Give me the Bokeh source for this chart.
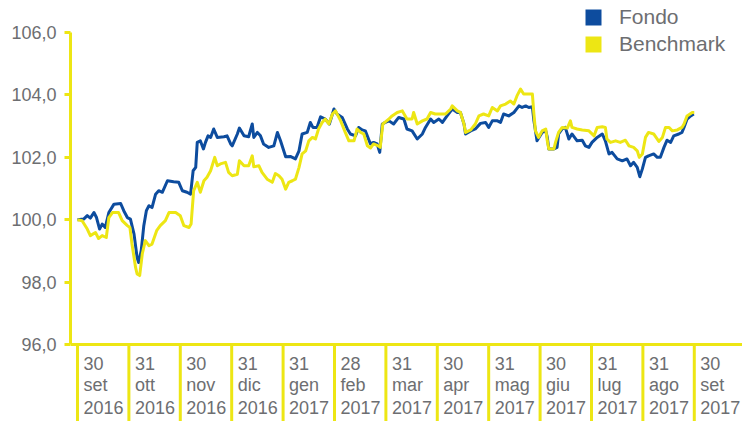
from bokeh.plotting import figure
from bokeh.models import (FixedTicker, Range1d, ColumnDataSource, Legend, LegendItem, Span)
from bokeh.core.properties import value
from bokeh.embed import file_html
from bokeh.resources import INLINE

# ---------------- data ----------------
month_pos = list(range(13))
day_labels = ["30", "31", "30", "31", "31", "28", "31", "30", "31", "30", "31", "31", "30"]
month_labels = ["set", "ott", "nov", "dic", "gen", "feb", "mar", "apr", "mag", "giu", "lug", "ago", "set"]
year_labels = ["2016", "2016", "2016", "2016", "2017", "2017", "2017", "2017", "2017",
               "2017", "2017", "2017", "2017"]

y_ticks = [96, 98, 100, 102, 104, 106]

fondo_t = [0.00, 0.12, 0.19, 0.25, 0.32, 0.37, 0.43, 0.48, 0.54, 0.61, 0.71, 0.84, 0.90, 0.97,
           1.03, 1.10, 1.16, 1.19, 1.24, 1.29, 1.34, 1.39, 1.45, 1.52, 1.58, 1.65, 1.75, 1.87,
           1.97, 2.04, 2.13, 2.20, 2.25, 2.30, 2.33, 2.39, 2.45, 2.49, 2.54, 2.59, 2.65, 2.72,
           2.85, 2.91, 2.98, 3.01, 3.11, 3.15, 3.24, 3.33, 3.40, 3.43, 3.50, 3.56, 3.62, 3.72,
           3.82, 3.89, 3.95, 4.05, 4.14, 4.24, 4.31, 4.37, 4.47, 4.53, 4.58, 4.66, 4.73, 4.82,
           4.90, 4.99, 5.05, 5.15, 5.25, 5.31, 5.41, 5.47, 5.54, 5.60, 5.70, 5.76, 5.83, 5.88,
           5.93, 5.99, 6.06, 6.15, 6.25, 6.35, 6.41, 6.51, 6.61, 6.71, 6.77, 6.87, 6.93, 7.03,
           7.10, 7.19, 7.29, 7.39, 7.45, 7.52, 7.55, 7.65, 7.74, 7.84, 7.94, 8.00, 8.07, 8.17,
           8.23, 8.29, 8.39, 8.49, 8.59, 8.65, 8.72, 8.78, 8.85, 8.88, 8.94, 9.04, 9.11, 9.14,
           9.17, 9.27, 9.33, 9.36, 9.43, 9.49, 9.56, 9.62, 9.72, 9.82, 9.88, 9.95, 10.01, 10.11,
           10.21, 10.27, 10.34, 10.40, 10.50, 10.60, 10.69, 10.76, 10.82, 10.89, 10.94, 10.99,
           11.05, 11.11, 11.21, 11.28, 11.34, 11.41, 11.47, 11.54, 11.60, 11.70, 11.76, 11.80,
           11.86, 11.93, 11.99]
fondo_v = [100.00, 100.02, 100.13, 100.05, 100.23, 100.07, 99.70, 99.86, 99.75, 100.23, 100.50,
           100.52, 100.29, 100.07, 100.02, 99.54, 98.79, 98.63, 99.01, 99.81, 100.29, 100.45,
           100.39, 100.82, 100.93, 100.88, 101.25, 101.22, 101.20, 100.93, 100.88, 100.82, 101.57,
           101.68, 102.48, 102.53, 102.27, 102.48, 102.69, 102.64, 102.91, 102.64, 102.66, 102.69,
           102.43, 102.37, 102.75, 102.94, 102.69, 102.66, 103.07, 102.64, 102.80, 102.69, 102.43,
           102.32, 102.37, 102.80, 102.53, 102.02, 102.03, 101.95, 102.21, 102.75, 102.80, 103.12,
           102.96, 102.96, 103.30, 103.23, 103.07, 103.55, 103.39, 103.28, 102.91, 102.75, 102.69,
           102.96, 102.88, 102.85, 102.43, 102.48, 102.43, 102.16, 103.07, 103.12, 103.17, 103.07,
           103.28, 103.23, 102.91, 102.85, 102.59, 102.75, 102.96, 103.23, 103.12, 103.23, 103.12,
           103.33, 103.55, 103.44, 103.44, 103.07, 102.75, 102.85, 102.91, 103.09, 103.12, 102.96,
           103.17, 103.17, 103.12, 103.39, 103.33, 103.44, 103.65, 103.60, 103.65, 103.60, 103.62,
           103.17, 102.53, 102.80, 102.85, 102.64, 102.27, 102.27, 102.32, 102.75, 102.91, 102.96,
           102.59, 102.75, 102.53, 102.55, 102.37, 102.32, 102.48, 102.64, 102.75, 102.53, 102.11,
           102.16, 101.95, 101.89, 101.95, 101.73, 101.84, 101.68, 101.38, 101.63, 102.00, 102.05,
           102.11, 102.00, 102.00, 102.32, 102.55, 102.48, 102.69, 102.75, 102.80, 102.96, 103.23,
           103.33, 103.39]

bench_t = [0.00, 0.09, 0.19, 0.25, 0.35, 0.41, 0.48, 0.56, 0.61, 0.68, 0.80, 0.87, 0.97, 1.02,
           1.06, 1.13, 1.16, 1.21, 1.26, 1.32, 1.39, 1.45, 1.54, 1.61, 1.71, 1.78, 1.91, 2.00,
           2.07, 2.17, 2.21, 2.26, 2.33, 2.39, 2.46, 2.52, 2.59, 2.67, 2.72, 2.78, 2.88, 2.94,
           3.01, 3.11, 3.15, 3.24, 3.33, 3.40, 3.43, 3.53, 3.59, 3.69, 3.79, 3.85, 3.92, 3.98,
           4.05, 4.11, 4.18, 4.24, 4.31, 4.37, 4.44, 4.50, 4.57, 4.63, 4.69, 4.76, 4.82, 4.89,
           4.96, 5.02, 5.12, 5.21, 5.28, 5.38, 5.44, 5.51, 5.57, 5.64, 5.70, 5.76, 5.85, 5.89,
           5.94, 5.99, 6.06, 6.12, 6.22, 6.32, 6.41, 6.51, 6.54, 6.61, 6.71, 6.80, 6.87, 6.96,
           7.06, 7.16, 7.26, 7.29, 7.39, 7.45, 7.52, 7.55, 7.65, 7.74, 7.81, 7.90, 8.00, 8.07,
           8.17, 8.23, 8.33, 8.42, 8.49, 8.55, 8.62, 8.68, 8.78, 8.85, 8.88, 8.91, 8.97, 9.04,
           9.11, 9.14, 9.17, 9.27, 9.30, 9.36, 9.43, 9.53, 9.59, 9.62, 9.72, 9.82, 9.95, 10.05,
           10.11, 10.21, 10.27, 10.30, 10.37, 10.47, 10.56, 10.66, 10.73, 10.82, 10.89, 10.93,
           10.99, 11.05, 11.11, 11.21, 11.31, 11.38, 11.44, 11.51, 11.57, 11.67, 11.76, 11.80,
           11.86, 11.96, 12.00]
bench_v = [100.00, 99.97, 99.70, 99.49, 99.59, 99.40, 99.49, 99.43, 100.07, 100.23, 100.23, 99.97,
           99.81, 99.75, 99.22, 98.47, 98.26, 98.21, 98.90, 99.33, 99.17, 99.22, 99.65, 99.81,
           99.97, 100.23, 100.23, 100.13, 99.81, 99.75, 99.86, 100.93, 101.20, 100.88, 101.25,
           101.36, 101.57, 102.00, 101.73, 101.79, 101.84, 101.52, 101.41, 101.46, 101.89, 101.73,
           101.73, 102.05, 101.70, 101.73, 101.52, 101.30, 101.20, 101.48, 101.41, 101.30, 100.98,
           101.20, 101.25, 101.30, 101.68, 102.11, 102.21, 102.53, 102.64, 102.59, 102.91, 103.12,
           103.23, 103.07, 103.39, 103.49, 103.17, 102.80, 102.53, 102.53, 102.91, 102.80, 102.75,
           102.37, 102.30, 102.43, 102.37, 102.32, 103.07, 103.14, 103.23, 103.33, 103.44, 103.49,
           103.23, 103.23, 103.44, 103.07, 103.17, 103.23, 103.44, 103.39, 103.39, 103.39, 103.55,
           103.65, 103.49, 103.44, 103.07, 102.80, 102.88, 103.07, 103.33, 103.39, 103.33, 103.60,
           103.49, 103.65, 103.71, 103.81, 103.71, 103.97, 104.19, 104.03, 104.03, 104.03, 103.39,
           102.85, 102.64, 102.85, 102.91, 102.53, 102.27, 102.27, 102.48, 102.80, 102.96, 102.94,
           103.17, 102.96, 102.91, 102.88, 102.85, 102.69, 102.96, 102.98, 102.96, 102.59, 102.48,
           102.53, 102.48, 102.55, 102.37, 102.32, 102.21, 102.00, 102.11, 102.64, 102.80, 102.75,
           102.51, 102.64, 102.96, 102.96, 102.85, 102.88, 102.96, 103.07, 103.33, 103.44, 103.44]

series_names = ["Fondo", "Benchmark"]

# ---------------- style ----------------
BLUE = "#0d4c9e"
YELLOW = "#ede614"
GREY = "#6d6e71"
FONT = "Liberation Sans"

Y_LOW = 93.53   # bottom of the frame (room for the date labels under the 96 baseline)

p = figure(width=742, height=421, output_backend="svg", toolbar_location=None,
           x_range=Range1d(-0.136, 12.938), y_range=Range1d(Y_LOW, 107.03),
           min_border_left=70, min_border_right=0, min_border_top=0, min_border_bottom=0)
p.outline_line_color = None
p.xgrid.visible = False
p.ygrid.visible = False
p.xaxis.visible = False
p.background_fill_color = "white"
p.border_fill_color = "white"

# y axis
ya = p.yaxis[0]
ya.ticker = FixedTicker(ticks=y_ticks)
ya.bounds = (y_ticks[0], y_ticks[-1])
ya.major_label_overrides = {t: f"{t:.1f}".replace(".", ",") for t in y_ticks}
ya.axis_line_color = YELLOW
ya.axis_line_width = 3
ya.major_tick_line_color = YELLOW
ya.major_tick_line_width = 3
ya.major_tick_out = 6
ya.major_tick_in = 0
ya.minor_tick_line_color = None
ya.major_label_standoff = 8
ya.major_label_text_font = FONT
ya.major_label_text_font_size = "18px"
ya.major_label_text_color = GREY

# baseline and month separators
p.add_layout(Span(location=y_ticks[0], dimension="width", line_color=YELLOW, line_width=3))
lab_src = ColumnDataSource(dict(t=month_pos, d=day_labels, m=month_labels, yr=year_labels,
                                base=[y_ticks[0]] * len(month_pos),
                                low=[Y_LOW] * len(month_pos)))
p.segment(x0="t", y0="base", x1="t", y1="low", source=lab_src,
          line_color=YELLOW, line_width=3)

# lines
r_f = p.line(fondo_t, fondo_v, line_color=BLUE, line_width=3, line_join="round")
r_b = p.line(bench_t, bench_v, line_color=YELLOW, line_width=3, line_join="round")

# date labels (three rows)
for col, off in (("d", 19), ("m", 41), ("yr", 63)):
    p.text(x="t", y="base", text=col, source=lab_src, x_offset=6, y_offset=off,
           text_baseline="middle", text_align="left",
           text_font=value(FONT), text_font_size="18px", text_color=GREY)

# legend with square swatches (zero-size quads, only used for the legend)
sq_f = p.quad(left=fondo_t[:1], right=fondo_t[:1], top=fondo_v[:1], bottom=fondo_v[:1],
              fill_color=BLUE, line_alpha=0)
sq_b = p.quad(left=bench_t[:1], right=bench_t[:1], top=bench_v[:1], bottom=bench_v[:1],
              fill_color=YELLOW, line_alpha=0)
legend = Legend(items=[LegendItem(label=series_names[0], renderers=[sq_f]),
                       LegendItem(label=series_names[1], renderers=[sq_b])],
                location=(513, 365), glyph_width=20, glyph_height=20, label_standoff=16,
                spacing=3, padding=0, margin=0, border_line_alpha=0,
                background_fill_alpha=0, label_text_font=FONT, label_text_font_size="21px",
                label_text_color=GREY, label_height=20)
p.add_layout(legend)

open("out.html", "w").write(file_html(p, INLINE))
